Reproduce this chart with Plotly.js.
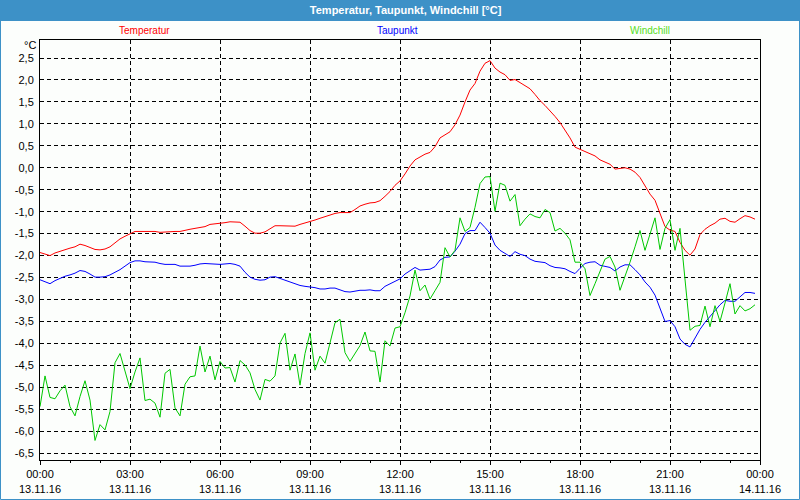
<!DOCTYPE html>
<html>
<head>
<meta charset="utf-8">
<script src="https://cdn.plot.ly/plotly-3.0.1.min.js"></script>
<style>
  html, body { margin: 0; padding: 0; background: #FCFEFC; }
  #chart { width: 800px; height: 500px; }
</style>
</head>
<body>
<div id="chart"></div>
<script>
// ---- data (10-minute readings, 13.11.16 00:00 .. 23:50) ----
const seriesNames = ['Temperatur', 'Taupunkt', 'Windchill'];
const seriesColors = ['#FF0000', '#0000FF', '#00C800'];
const legendColors = ['#FF0000', '#0000FF', '#55DD22'];
const startDay = '2016-11-13';
const stepMinutes = 10;

const temperatur = [
  -1.93, -1.97, -2.00, -1.94, -1.90, -1.86, -1.83, -1.80, -1.74, -1.77, -1.82, -1.86,
  -1.87, -1.85, -1.80, -1.71, -1.62, -1.56, -1.50, -1.45, -1.45, -1.45, -1.45, -1.45,
  -1.47, -1.46, -1.45, -1.45, -1.45, -1.42, -1.40, -1.38, -1.36, -1.34, -1.29, -1.28,
  -1.27, -1.25, -1.23, -1.23, -1.24, -1.33, -1.43, -1.49, -1.49, -1.46, -1.38, -1.32,
  -1.32, -1.32, -1.33, -1.33, -1.29, -1.26, -1.22, -1.19, -1.15, -1.11, -1.07, -1.04,
  -1.02, -1.02, -1.02, -0.95, -0.87, -0.83, -0.80, -0.79, -0.75, -0.65, -0.54, -0.40,
  -0.30, -0.14, 0.04, 0.18, 0.25, 0.31, 0.35, 0.48, 0.68, 0.75, 0.82, 0.98,
  1.20, 1.50, 1.77, 1.92, 2.20, 2.38, 2.44, 2.27, 2.18, 2.12, 1.99, 2.01,
  1.94, 1.87, 1.80, 1.67, 1.53, 1.42, 1.30, 1.17, 1.03, 0.86, 0.68, 0.47,
  0.42, 0.38, 0.33, 0.27, 0.18, 0.13, 0.08, -0.03, -0.01, 0.00, -0.03, -0.10,
  -0.22, -0.40, -0.60, -0.74, -1.05, -1.34, -1.42, -1.45, -1.70, -1.88, -1.99, -1.85,
  -1.52, -1.40, -1.32, -1.26, -1.17, -1.15, -1.22, -1.24, -1.16, -1.09, -1.12, -1.17
];

const taupunkt = [
  -2.55, -2.60, -2.64, -2.57, -2.52, -2.47, -2.44, -2.40, -2.34, -2.36, -2.42, -2.49,
  -2.49, -2.48, -2.44, -2.38, -2.32, -2.24, -2.16, -2.12, -2.12, -2.14, -2.14, -2.15,
  -2.18, -2.20, -2.20, -2.20, -2.24, -2.24, -2.24, -2.22, -2.19, -2.18, -2.19, -2.20,
  -2.20, -2.19, -2.18, -2.20, -2.24, -2.38, -2.49, -2.54, -2.56, -2.55, -2.49, -2.48,
  -2.52, -2.56, -2.60, -2.64, -2.68, -2.70, -2.71, -2.73, -2.76, -2.76, -2.74, -2.74,
  -2.78, -2.82, -2.83, -2.81, -2.79, -2.79, -2.78, -2.80, -2.80, -2.70, -2.64, -2.58,
  -2.53, -2.42, -2.34, -2.27, -2.33, -2.32, -2.31, -2.25, -2.10, -2.04, -2.03, -1.90,
  -1.74, -1.50, -1.43, -1.43, -1.24, -1.36, -1.49, -1.76, -1.88, -1.95, -2.02, -1.91,
  -1.97, -2.00, -2.08, -2.13, -2.14, -2.16, -2.23, -2.27, -2.28, -2.30, -2.36, -2.41,
  -2.29, -2.18, -2.15, -2.14, -2.22, -2.25, -2.27, -2.35, -2.26, -2.21, -2.21, -2.32,
  -2.44, -2.60, -2.72, -2.90, -3.20, -3.50, -3.48, -3.62, -3.90, -4.02, -4.08, -3.88,
  -3.68, -3.52, -3.38, -3.25, -3.12, -3.02, -3.04, -3.04, -2.95, -2.84, -2.84, -2.86
];

const windchill = [
  -5.44, -4.74, -5.23, -5.26, -5.08, -4.95, -5.44, -5.65, -5.21, -4.85, -5.29, -6.21,
  -5.85, -5.97, -5.55, -4.44, -4.23, -4.65, -5.03, -4.65, -4.33, -5.30, -5.27, -5.36,
  -5.68, -4.68, -4.59, -5.47, -5.65, -4.93, -4.76, -4.74, -4.06, -4.65, -4.29, -4.83,
  -4.41, -4.56, -4.55, -4.88, -4.39, -4.49, -4.67, -5.05, -5.29, -4.82, -4.86, -4.74,
  -3.99, -3.77, -4.61, -4.24, -4.95, -4.23, -3.76, -4.61, -4.29, -4.45, -3.99, -3.53,
  -3.45, -4.21, -4.41, -4.23, -4.05, -3.74, -4.17, -4.18, -4.88, -3.94, -4.06, -3.65,
  -3.62, -3.30, -2.92, -2.33, -2.80, -2.67, -2.99, -2.80, -2.61, -1.82, -2.03, -1.88,
  -1.14, -1.45, -1.36, -0.90, -0.36, -0.21, -0.20, -0.99, -0.35, -0.40, -0.76, -0.61,
  -1.32, -1.17, -1.05, -1.11, -1.14, -0.95, -1.02, -1.44, -1.38, -1.49, -1.64, -2.15,
  -2.15, -2.30, -2.91, -2.64, -2.35, -2.08, -2.02, -2.26, -2.79, -2.49, -2.15, -1.80,
  -1.43, -1.88, -1.52, -1.14, -1.86, -1.38, -1.18, -1.88, -1.38, -2.55, -3.70, -3.61,
  -3.59, -3.15, -3.62, -3.14, -3.50, -3.08, -2.64, -3.33, -3.14, -3.26, -3.21, -3.12
];

const tickTimes = ['2016-11-13 00:00', '2016-11-13 03:00', '2016-11-13 06:00', '2016-11-13 09:00',
  '2016-11-13 12:00', '2016-11-13 15:00', '2016-11-13 18:00', '2016-11-13 21:00', '2016-11-14 00:00'];
const tickLabels = ['00:00<br>13.11.16', '03:00<br>13.11.16', '06:00<br>13.11.16', '09:00<br>13.11.16',
  '12:00<br>13.11.16', '15:00<br>13.11.16', '18:00<br>13.11.16', '21:00<br>13.11.16', '00:00<br>14.11.16'];
const yTicks = [2.5, 2.0, 1.5, 1.0, 0.5, 0.0, -0.5, -1.0, -1.5, -2.0, -2.5, -3.0, -3.5, -4.0, -4.5, -5.0, -5.5, -6.0, -6.5];
const yTickLabels = ['2,5', '2,0', '1,5', '1,0', '0,5', '0,0', '-0,5', '-1,0', '-1,5', '-2,0', '-2,5', '-3,0', '-3,5', '-4,0', '-4,5', '-5,0', '-5,5', '-6,0', '-6,5'];
const titleText = 'Temperatur, Taupunkt, Windchill [°C]';
const unitText = '°C';

// ---- build ----
function timeAt(i) {
  const m = i * stepMinutes;
  const hh = String(Math.floor(m / 60)).padStart(2, '0');
  const mm = String(m % 60).padStart(2, '0');
  return startDay + ' ' + hh + ':' + mm;
}
const times = temperatur.map((_, i) => timeAt(i));
const allSeries = [temperatur, taupunkt, windchill];

const FONT = 'Liberation Sans Narrow, Liberation Sans, Arial, sans-serif';
const BLUE = '#3D91C7';

const traces = allSeries.map((vals, k) => ({
  type: 'scatter', mode: 'lines', name: seriesNames[k],
  x: times, y: vals,
  line: { color: seriesColors[k], width: 1 },
  hoverinfo: 'skip'
}));

// plot area: x 40..760, y 40..460
const W = 800, H = 500, L = 40, R = 40, T = 40, B = 40;
const pw = W - L - R, ph = H - T - B;
const px = (fx) => (fx - L) / pw;
const py = (fy) => (H - B - fy) / ph;

const legendX = [144, 397, 650];
const annotations = seriesNames.map((n, k) => ({
  text: n, xref: 'paper', yref: 'paper', x: px(legendX[k]), y: py(30),
  xanchor: 'center', yanchor: 'middle', showarrow: false,
  font: { family: FONT, size: 10, color: legendColors[k] }
}));
annotations.push({
  text: unitText, xref: 'paper', yref: 'paper', x: px(38), y: py(45),
  xanchor: 'right', yanchor: 'middle', showarrow: false,
  font: { family: FONT, size: 11, color: '#000' }
});

const layout = {
  width: W, height: H,
  margin: { l: L, r: R, t: T, b: B, pad: 0 },
  paper_bgcolor: '#FCFEFC', plot_bgcolor: '#FCFEFC',
  showlegend: false,
  title: {
    text: '<b>' + titleText + '</b>',
    font: { family: FONT, size: 11, color: '#FFFFFF' },
    xref: 'container', x: 0.507, xanchor: 'center',
    yref: 'container', y: 1 - 10.5 / H, yanchor: 'middle'
  },
  xaxis: {
    type: 'date',
    range: ['2016-11-13 00:00', '2016-11-14 00:00'],
    tickmode: 'array', tickvals: tickTimes, ticktext: tickLabels,
    showgrid: true, gridcolor: '#000000', gridwidth: 1, griddash: '4px,3px',
    showline: true, mirror: true, linecolor: '#000000', linewidth: 1,
    ticks: 'outside', ticklen: 4, tickcolor: '#000000',
    minor: { tickmode: 'linear', tick0: '2016-11-13 00:00', dtick: 3600000, ticks: 'outside', ticklen: 2, tickcolor: '#000000', showgrid: false },
    tickfont: { family: FONT, size: 11, color: '#000000' },
    zeroline: false, fixedrange: true
  },
  yaxis: {
    range: [-6.655, 2.91],
    tickmode: 'array', tickvals: yTicks, ticktext: yTickLabels,
    showgrid: true, gridcolor: '#000000', gridwidth: 1, griddash: '4px,3px',
    showline: true, mirror: true, linecolor: '#000000', linewidth: 1,
    ticks: '', ticklabelstandoff: 3,
    tickfont: { family: FONT, size: 11, color: '#000000' },
    zeroline: false, fixedrange: true
  },
  shapes: [
    { type: 'rect', xref: 'paper', yref: 'paper', layer: 'below',
      x0: px(0), x1: px(W), y0: py(21), y1: py(0),
      fillcolor: BLUE, line: { width: 0 } },
    { type: 'rect', xref: 'paper', yref: 'paper', layer: 'above',
      x0: px(0.5), x1: px(W - 0.5), y0: py(H - 0.5), y1: py(0.5),
      fillcolor: 'rgba(0,0,0,0)', line: { color: BLUE, width: 1 } }
  ],
  annotations: annotations
};

Plotly.newPlot('chart', traces, layout, { staticPlot: true, displayModeBar: false });
</script>
</body>
</html>
